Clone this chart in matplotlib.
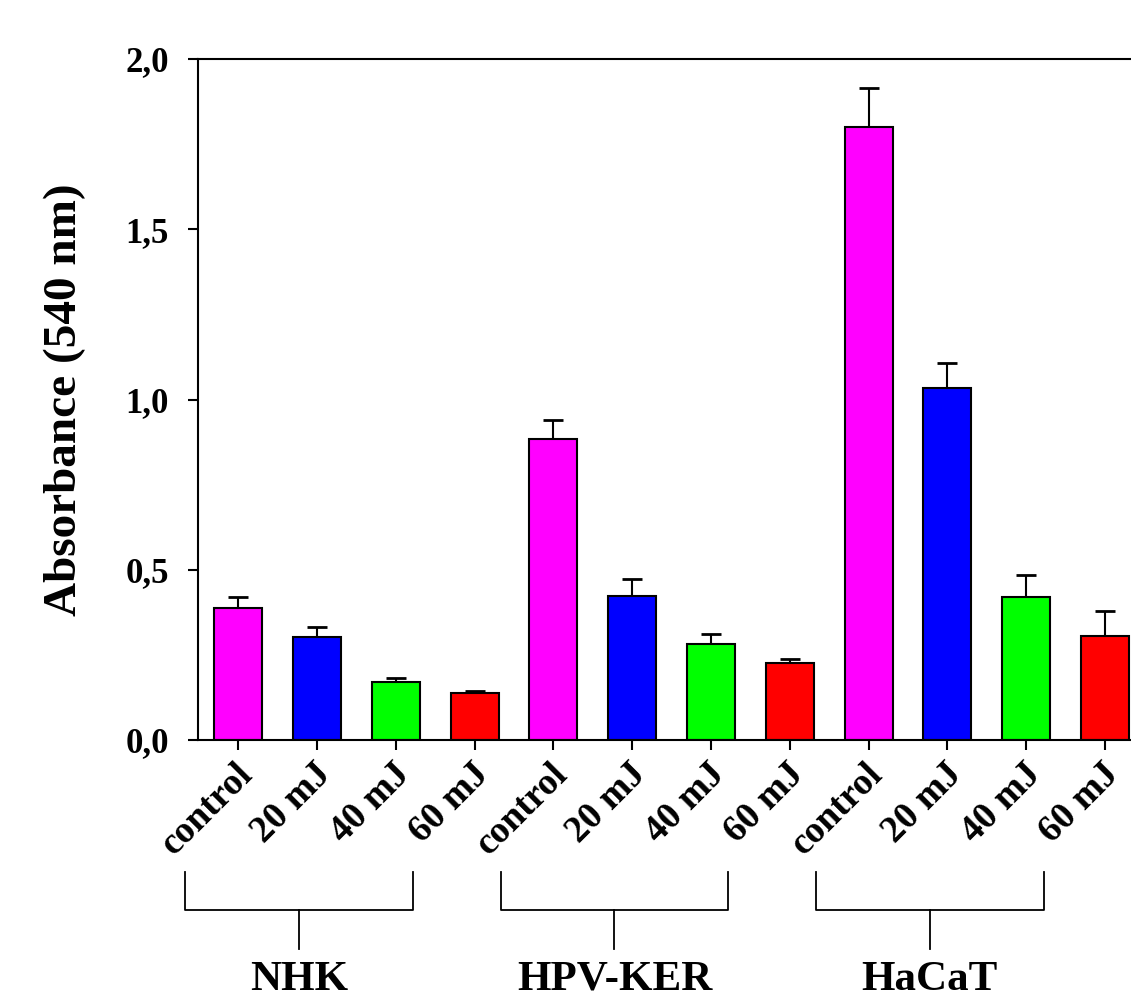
"""Absorbance at 540 nm for NHK, HPV-KER and HaCaT cells after UV doses."""

import matplotlib
matplotlib.use("Agg")
import matplotlib.pyplot as plt
import numpy as np
from matplotlib.transforms import ScaledTranslation

# ── Data ────────────────────────────────────────────────────────────
GROUPS = ["NHK", "HPV-KER", "HaCaT"]
DOSES = ["control", "20 mJ", "40 mJ", "60 mJ"]
DOSE_COLORS = ["#FF00FF", "#0000FF", "#00FF00", "#FF0000"]

NHK_MEAN = [0.389, 0.302, 0.170, 0.138]
NHK_ERR = [0.032, 0.029, 0.012, 0.006]
HPV_MEAN = [0.884, 0.423, 0.282, 0.226]
HPV_ERR = [0.056, 0.050, 0.029, 0.012]
HACAT_MEAN = [1.800, 1.034, 0.420, 0.305]
HACAT_ERR = [0.115, 0.073, 0.065, 0.074]

Y_TICKS = [0.0, 0.5, 1.0, 1.5, 2.0]
Y_TICK_LABELS = ["0,0", "0,5", "1,0", "1,5", "2,0"]

plt.rcParams["font.family"] = ["Liberation Serif", "DejaVu Serif"]
plt.rcParams["font.weight"] = "bold"

means = np.array(NHK_MEAN + HPV_MEAN + HACAT_MEAN)
errs = np.array(NHK_ERR + HPV_ERR + HACAT_ERR)
labels = DOSES * len(GROUPS)
colors = DOSE_COLORS * len(GROUPS)
x = np.arange(len(means))

W, H = 1131, 998
fig = plt.figure(figsize=(W / 100, H / 100), dpi=100)
ax = fig.add_axes([198 / W, 1 - 740 / H, (W - 198) / W, (740 - 59) / H])

ax.bar(x, means, width=0.61, color=colors, edgecolor="black", linewidth=1.5, zorder=2)
ax.errorbar(x, means, yerr=[np.zeros_like(errs), errs], fmt="none", ecolor="black",
            elinewidth=1.5, capsize=7.5, capthick=2, zorder=1)

ax.set_xlim(-0.51, 11.33)
ax.set_ylim(0, 2.0)
ax.set_yticks(Y_TICKS)
ax.set_yticklabels(Y_TICK_LABELS, fontsize=25, fontweight="bold")
ax.set_xticks(x)
ax.set_xticklabels([])

# rotated dose labels, shifted a little right/down of each tick
trans = ax.get_xaxis_transform()
lbl_trans = trans + ScaledTranslation(9 / 100, -29 / 100, fig.dpi_scale_trans)
for xi, lbl in zip(x, labels):
    ax.text(xi, 0, lbl, transform=lbl_trans, fontsize=27, fontweight="bold",
            rotation=45, ha="right", va="center", rotation_mode="anchor")

ax.tick_params(axis="both", direction="out", length=7, width=1.5, color="black")
ax.tick_params(axis="y", pad=14)
for side in ["left", "bottom", "top"]:
    ax.spines[side].set_linewidth(1.5)
ax.spines["right"].set_visible(False)

ax.set_ylabel("Absorbance (540 nm)", fontsize=34, fontweight="bold", labelpad=28)

# group brackets below the tick labels
for g, name in enumerate(GROUPS):
    x0 = 4 * g - 0.67
    x1 = 4 * g + 3 - 0.78
    xm = (x0 + x1) / 2
    ax.plot([x0, x0, x1, x1], [-0.194, -0.250, -0.250, -0.194], color="black",
            linewidth=1.3, transform=trans, clip_on=False)
    ax.plot([xm, xm], [-0.250, -0.307], color="black", linewidth=1.3,
            transform=trans, clip_on=False)
    ax.text(xm, -0.367, name, transform=trans, ha="center", va="baseline",
            fontsize=31, fontweight="bold")

fig.savefig("out.png", dpi=100)
plt.close(fig)
